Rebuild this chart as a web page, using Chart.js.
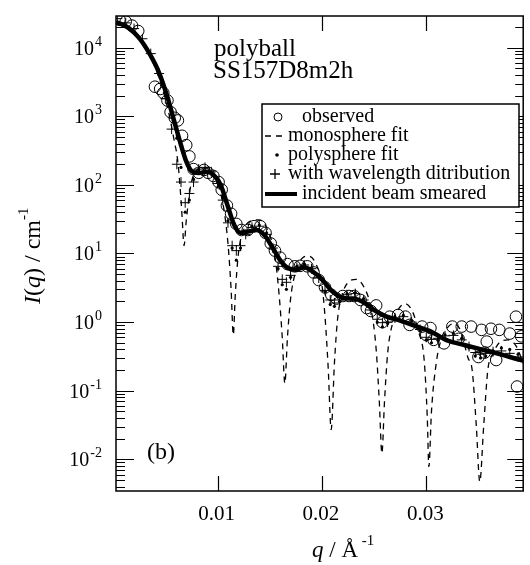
<!DOCTYPE html>
<html>
<head>
<meta charset="utf-8">
<script src="https://cdn.jsdelivr.net/npm/chart.js@4.4.1/dist/chart.umd.min.js"></script>
<style>
  html, body { margin: 0; padding: 0; background: #fff; }
  #chart { display: block; }
</style>
</head>
<body>
<canvas id="chart" width="530" height="565"></canvas>
<script>
// observed points
const obsQ = [0.0006, 0.0012, 0.0018, 0.0024, 0.0040, 0.0045, 0.0048, 0.0052, 0.0055, 0.0059, 0.0062, 0.0066, 0.0070, 0.0073, 0.0077,
    0.0082, 0.0087, 0.0091, 0.0096, 0.0101, 0.0104, 0.0109, 0.0113, 0.0118, 0.0123, 0.0129, 0.0135, 0.0141, 0.0146, 0.0151,
    0.0155, 0.0160, 0.0167, 0.0174, 0.0179, 0.0186, 0.0192, 0.0197, 0.0203, 0.0209, 0.0214, 0.0220, 0.0226, 0.0231, 0.0237,
    0.0243, 0.0247, 0.0252, 0.0258, 0.0265, 0.0273, 0.0280, 0.0284, 0.0296, 0.0300, 0.0304, 0.0307, 0.0317, 0.0325, 0.0331,
    0.0334, 0.0343, 0.0350, 0.0353, 0.0356, 0.0358, 0.0362, 0.0367, 0.0370, 0.0380, 0.0386, 0.0387, 0.0391];
const obsI = [25500, 24000, 21000, 17500, 2700, 2500, 2200, 1700, 1150, 950, 870, 520, 380, 260, 170,
    150, 165, 150, 135, 110, 85, 50, 38, 27, 22, 22, 25, 25, 20, 14,
    11, 8.7, 7, 6.5, 6.6, 6.5, 5.3, 4.1, 3.2, 2.5, 2.2, 2.4, 2.4, 2.4, 2.1,
    1.6, 1.45, 1.75, 1.0, 1.2, 1.27, 1.2, 0.91, 0.86, 0.65, 0.82, 0.55, 0.49, 0.86, 0.57,
    0.86, 0.86, 0.31, 0.77, 0.36, 0.52, 0.8, 0.28, 0.77, 0.68, 1.2, 0.115, 0.62];

// monosphere fit
const monoQ = [0.0003, 0.0010, 0.0020, 0.0030, 0.0040, 0.0048, 0.0054, 0.0059, 0.0061, 0.0063, 0.0065, 0.0066, 0.00679, 0.0070, 0.0072,
    0.0075, 0.0080, 0.0087, 0.0095, 0.0101, 0.0106, 0.0110, 0.0113, 0.01151, 0.0117, 0.0120, 0.0125, 0.0132, 0.0140, 0.0148,
    0.0155, 0.0159, 0.0162, 0.01645, 0.0167, 0.0170, 0.0175, 0.0181, 0.0187, 0.0194, 0.0200, 0.0203, 0.0206, 0.02089, 0.0212,
    0.0215, 0.0219, 0.0226, 0.0233, 0.0240, 0.0247, 0.0252, 0.0255, 0.02575, 0.0260, 0.0263, 0.0268, 0.0274, 0.0280, 0.0287,
    0.0293, 0.0298, 0.0301, 0.03025, 0.0305, 0.0310, 0.0315, 0.0320, 0.0326, 0.0333, 0.0340, 0.0344, 0.0348, 0.03513, 0.0355,
    0.0359, 0.0364, 0.0370, 0.0378, 0.0386, 0.0393];
const monoI = [24000, 22000, 17000, 10500, 5300, 2300, 1000, 400, 280, 150, 60, 35, 13, 30, 55,
    110, 165, 180, 150, 95, 45, 14, 3, 0.65, 2.5, 10, 22, 30, 31, 22,
    9, 2.5, 0.6, 0.128, 0.6, 2.2, 5.5, 8.5, 9.2, 7.2, 3.5, 1.2, 0.22, 0.027, 0.25,
    1.1, 2.4, 3.9, 4.2, 3.3, 1.6, 0.4, 0.07, 0.0122, 0.07, 0.35, 1.0, 1.6, 1.85, 1.4,
    0.7, 0.28, 0.04, 0.0078, 0.05, 0.28, 0.6, 0.82, 0.95, 0.75, 0.3, 0.2, 0.03, 0.0047, 0.03,
    0.2, 0.35, 0.5, 0.55, 0.45, 0.25];

// polysphere fit and wavelength distribution share the q grid
const fitQ = [0.0004, 0.0012, 0.0020, 0.0028, 0.0036, 0.0044, 0.0050, 0.0056, 0.0061, 0.0065, 0.0069, 0.0073, 0.0077, 0.0082, 0.0088,
    0.0094, 0.0100, 0.0105, 0.0110, 0.0114, 0.0118, 0.0122, 0.0127, 0.0133, 0.0140, 0.0147, 0.0153, 0.0158, 0.0162, 0.0166,
    0.0170, 0.0176, 0.0183, 0.0190, 0.0197, 0.0203, 0.0208, 0.0212, 0.0217, 0.0224, 0.0232, 0.0240, 0.0247, 0.0253, 0.0258,
    0.0263, 0.0270, 0.0278, 0.0286, 0.0294, 0.0300, 0.0305, 0.0311, 0.0318, 0.0326, 0.0334, 0.0341, 0.0347, 0.0352, 0.0357,
    0.0364, 0.0372, 0.0380, 0.0388, 0.0395];
const polyI = [23000, 20500, 16500, 12000, 7500, 4000, 2200, 1050, 480, 180, 40, 60, 120, 165, 175,
    150, 110, 65, 30, 12, 8, 12, 20, 25, 26, 20, 12, 6, 3.5, 3,
    4.5, 6.5, 7, 6.2, 4.5, 2.8, 1.8, 1.7, 2.0, 2.6, 2.7, 2.2, 1.5, 1.0, 0.85,
    0.95, 1.2, 1.25, 1.05, 0.75, 0.55, 0.5, 0.55, 0.65, 0.68, 0.58, 0.42, 0.32, 0.3, 0.32,
    0.38, 0.42, 0.4, 0.34, 0.28];
const waveI = [26500, 23000, 19000, 13500, 8200, 4200, 1800, 650, 200, 110, 55, 75, 110, 170, 180,
    155, 105, 60, 28, 13, 11, 13, 19, 24, 25, 19, 12, 6.5, 4.2, 3.8,
    4.8, 6.3, 6.8, 6.0, 4.4, 2.9, 2.1, 1.9, 2.1, 2.5, 2.6, 2.1, 1.5, 1.1, 0.98,
    1.0, 1.15, 1.2, 1.0, 0.78, 0.6, 0.56, 0.58, 0.63, 0.64, 0.55, 0.44, 0.36, 0.34, 0.35,
    0.37, 0.38, 0.35, 0.31, 0.27];

// incident beam smeared
const smearQ = [0.0003, 0.0008, 0.0015, 0.0025, 0.0035, 0.0044, 0.0052, 0.0058, 0.0065, 0.0070, 0.0075, 0.0082, 0.0090, 0.0097, 0.0103,
    0.0110, 0.0116, 0.0122, 0.0130, 0.0137, 0.0145, 0.0153, 0.0160, 0.0167, 0.0175, 0.0183, 0.0191, 0.0200, 0.0210, 0.0220,
    0.0230, 0.0240, 0.0250, 0.0262, 0.0275, 0.0290, 0.0305, 0.0320, 0.0335, 0.0350, 0.0365, 0.0380, 0.0395];
const smearI = [23500, 22000, 19300, 13800, 8100, 4300, 1900, 900, 380, 220, 160, 149, 155, 135, 100,
    48, 26, 20, 21, 22, 18.5, 12, 8, 6.2, 5.8, 6.3, 5.5, 4.2, 2.8, 2.25,
    2.2, 1.95, 1.5, 1.2, 1.05, 0.87, 0.72, 0.54, 0.47, 0.41, 0.36, 0.31, 0.27];

const xTicks = [0.01, 0.02, 0.03];
const xTickLabels = ["0.01", "0.02", "0.03"];
const yExponents = [-2, -1, 0, 1, 2, 3, 4];
const legendLabels = ["observed", "monosphere fit", "polysphere fit", "with wavelength ditribution", "incident beam smeared"];

const SERIF = '"Liberation Serif", "Times New Roman", serif';
const pts = (qs, is) => qs.map((q, i) => ({ x: q, y: is[i] }));

// "10" with superscript exponent, right edge at xr
function drawPower(ctx, exp, xr, yc) {
    const sup = String(exp);
    ctx.font = "20px " + SERIF;
    const wBase = ctx.measureText("10").width;
    ctx.font = "14px " + SERIF;
    const wSup = ctx.measureText(sup).width;
    ctx.textBaseline = "alphabetic";
    ctx.textAlign = "left";
    ctx.font = "20px " + SERIF;
    ctx.fillText("10", xr - wSup - wBase - 1, yc + 9);
    ctx.font = "14px " + SERIF;
    ctx.fillText(sup, xr - wSup, yc);
}

// draws a run of [text, font, dy] pieces, returns end x
function drawRun(ctx, pieces, x, y) {
    pieces.forEach(([t, f, dy]) => {
        ctx.font = f;
        ctx.fillText(t, x, y + (dy || 0));
        x += ctx.measureText(t).width;
    });
    return x;
}

const framePlugin = {
    id: "frame",
    afterDraw(chart) {
        const { ctx, chartArea: a, scales: { x, y } } = chart;
        ctx.save();
        ctx.strokeStyle = "#000";
        ctx.fillStyle = "#000";
        ctx.lineWidth = 1.5;
        ctx.strokeRect(a.left, a.top, a.right - a.left, a.bottom - a.top);

        ctx.lineWidth = 1.2;
        ctx.beginPath();
        for (let e = -3; e <= 4; e++) {
            for (let m = 1; m <= 9; m++) {
                const v = m * Math.pow(10, e);
                if (v < y.min || v > y.max) continue;
                const py = Math.round(y.getPixelForValue(v)) + 0.5;
                const lenL = m === 1 ? 18 : 9;
                const lenR = m === 1 ? 16 : 8;
                ctx.moveTo(a.left, py); ctx.lineTo(a.left + lenL, py);
                ctx.moveTo(a.right, py); ctx.lineTo(a.right - lenR, py);
            }
        }
        xTicks.forEach(t => {
            const px = Math.round(x.getPixelForValue(t)) + 0.5;
            ctx.moveTo(px, a.bottom); ctx.lineTo(px, a.bottom - 15);
            ctx.moveTo(px, a.top); ctx.lineTo(px, a.top + 15);
        });
        ctx.stroke();

        yExponents.forEach(e => drawPower(ctx, e, 102, y.getPixelForValue(Math.pow(10, e)) - 2));

        ctx.font = "21px " + SERIF;
        ctx.textAlign = "center";
        ctx.textBaseline = "alphabetic";
        xTicks.forEach((t, i) => ctx.fillText(xTickLabels[i], x.getPixelForValue(t) - 1, 520));

        // axis titles
        ctx.textAlign = "left";
        const big = "24px " + SERIF, bigI = "italic 24px " + SERIF, small = "15px " + SERIF;
        drawRun(ctx, [["q", "italic 23px " + SERIF], [" / Å", "23px " + SERIF], [" -1", small, -12]], 312, 557);
        ctx.save();
        ctx.translate(40, 304);
        ctx.rotate(-Math.PI / 2);
        drawRun(ctx, [["I", bigI], ["(", big], ["q", bigI], [") / cm", big], ["-1", small, -12]], 0, 0);
        ctx.restore();

        // annotations
        ctx.font = "25px " + SERIF;
        ctx.fillText("polyball", 214, 56);
        ctx.fillText("SS157D8m2h", 213, 78);
        ctx.font = "24px " + SERIF;
        ctx.fillText("(b)", 147, 459);

        // legend box
        const L = 262, T = 104, R = 519, B = 207;
        ctx.fillStyle = "#fff";
        ctx.fillRect(L, T, R - L, B - T);
        ctx.strokeStyle = "#000";
        ctx.lineWidth = 1.5;
        ctx.strokeRect(L, T, R - L, B - T);
        ctx.fillStyle = "#000";
        const rows = [117, 136, 155, 174, 194];
        ctx.lineWidth = 1;
        ctx.beginPath(); ctx.arc(278, rows[0], 4, 0, Math.PI * 2); ctx.stroke();
        ctx.lineWidth = 1.3;
        ctx.beginPath();
        ctx.moveTo(265, rows[1]); ctx.lineTo(271, rows[1]);
        ctx.moveTo(276, rows[1]); ctx.lineTo(282, rows[1]);
        ctx.moveTo(270, rows[3]); ctx.lineTo(280, rows[3]);
        ctx.moveTo(275, rows[3] - 5); ctx.lineTo(275, rows[3] + 5);
        ctx.stroke();
        ctx.beginPath(); ctx.arc(277, rows[2], 1.8, 0, Math.PI * 2); ctx.fill();
        ctx.lineWidth = 4;
        ctx.beginPath(); ctx.moveTo(265, rows[4]); ctx.lineTo(297, rows[4]); ctx.stroke();
        ctx.font = "20px " + SERIF;
        ctx.textBaseline = "middle";
        const textX = [302, 288, 288, 288, 302];
        legendLabels.forEach((t, i) => ctx.fillText(t, textX[i], rows[i]));
        ctx.restore();
    }
};

new Chart(document.getElementById("chart").getContext("2d"), {
    type: "scatter",
    data: {
        datasets: [
            { label: legendLabels[4], data: pts(smearQ, smearI), showLine: true, borderColor: "#000", borderWidth: 4.5,
              pointRadius: 0, cubicInterpolationMode: "monotone" },
            { label: legendLabels[3], data: pts(fitQ, waveI), pointStyle: "cross", pointRadius: 5, borderColor: "#000",
              borderWidth: 1, showLine: false },
            { label: legendLabels[2], data: pts(fitQ, polyI), pointStyle: "circle", pointRadius: 1.6, borderWidth: 0,
              backgroundColor: "#000", showLine: false },
            { label: legendLabels[1], data: pts(monoQ, monoI), showLine: true, borderColor: "#000", borderWidth: 1.3,
              borderDash: [6, 5], pointRadius: 0, cubicInterpolationMode: "monotone" },
            { label: legendLabels[0], data: pts(obsQ, obsI), pointStyle: "circle", pointRadius: 5.8, borderColor: "#000",
              borderWidth: 1, backgroundColor: "rgba(0,0,0,0)", showLine: false }
        ]
    },
    options: {
        responsive: false,
        animation: false,
        layout: { padding: { left: 116, top: 16, right: 1, bottom: 74 } },
        plugins: { legend: { display: false }, tooltip: { enabled: false } },
        scales: {
            x: { type: "linear", display: false, min: 0.00027, max: 0.03929 },
            y: { type: "logarithmic", display: false, min: 0.00345, max: 28970 }
        }
    },
    plugins: [framePlugin]
});
</script>
</body>
</html>
